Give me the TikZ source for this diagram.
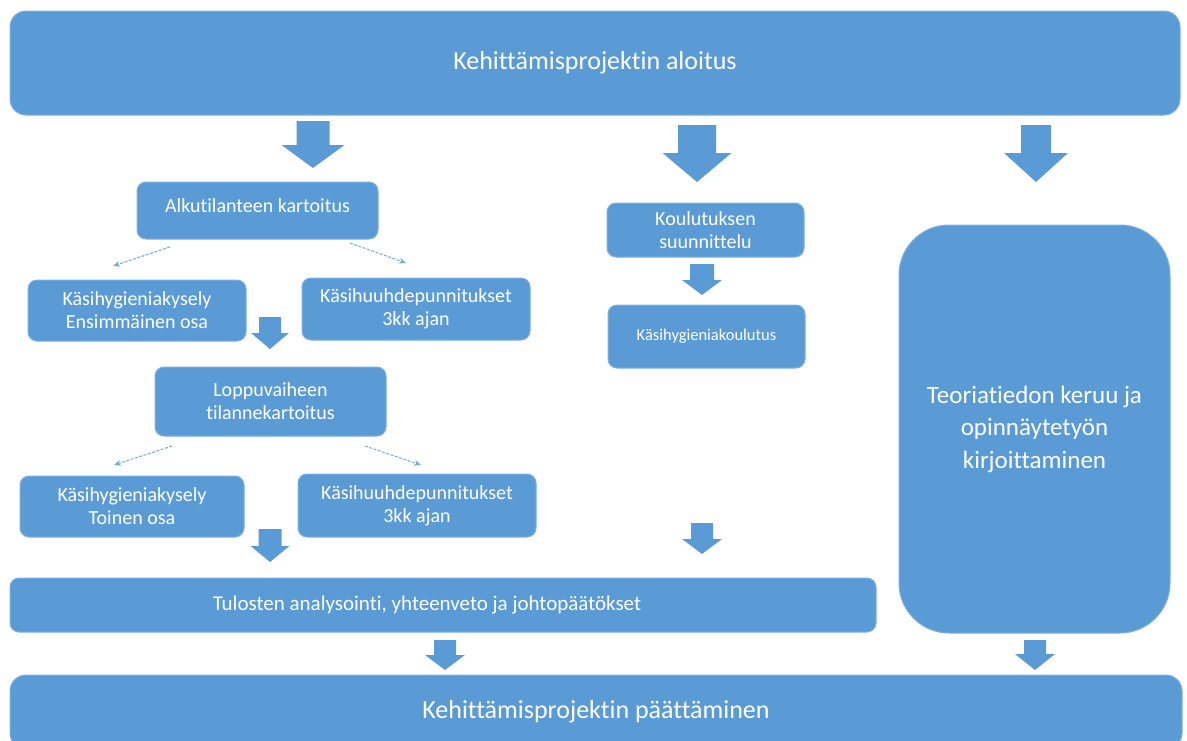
\documentclass[tikz,border=0pt]{standalone}
\usepackage{fontspec}
\setmainfont{Carlito}[Ligatures={NoCommon}]
\usetikzlibrary{arrows.meta}
\definecolor{boxblue}{HTML}{5B9BD5}
\definecolor{boxedge}{HTML}{7DB0DF}
\newcommand\blockarrow[6]{% cx, top, head start, tip, shaft half width, head half width
  \fill[boxblue] (#1-#5,#2) -- (#1+#5,#2) -- (#1+#5,#3) -- (#1+#6,#3) -- (#1,#4) -- (#1-#6,#3) -- (#1-#5,#3) -- cycle;}
\begin{document}
\begin{tikzpicture}[x=1pt,y=-1pt,
  box/.style={rectangle, rounded corners=9pt, fill=boxblue, draw=boxedge, line width=1pt,
    text=white, align=center, inner sep=0pt, font=\fontsize{20}{23}\selectfont},
  bigtext/.style={font=\fontsize{26}{30}\selectfont},
  thinarrow/.style={draw=boxblue!85!white, line width=1pt, dash pattern=on 3pt off 1.5pt,
    -{Stealth[length=7pt,width=6pt]}}]
\useasboundingbox (0,0) rectangle (1187,740);
\clip (0,0) rectangle (1187,740);

% main boxes
\node[box, bigtext, rounded corners=16pt, minimum width=1170pt, minimum height=104pt] (start) at (595,63) {Kehittämisprojektin aloitus};
\node[box, minimum width=241pt, minimum height=57pt] (alku) at (257.5,210.5) {\raisebox{5pt}[\height][\depth]{Alkutilanteen kartoitus}};
\node[box, minimum width=218pt, minimum height=61pt] (kys1) at (137,310.5) {Käsihygieniakysely\\Ensimmäinen osa};
\node[box, minimum width=228pt, minimum height=62pt] (huuh1) at (416,309) {Käsihuuhdepunnitukset\\3kk ajan};
\node[box, minimum width=231pt, minimum height=69pt] (loppu) at (270.5,401.5) {Loppuvaiheen\\tilannekartoitus};
\node[box, minimum width=224pt, minimum height=61pt] (kys2) at (132,506.5) {Käsihygieniakysely\\Toinen osa};
\node[box, minimum width=238pt, minimum height=63pt] (huuh2) at (417,505.5) {Käsihuuhdepunnitukset\\3kk ajan};
\node[box, minimum width=197pt, minimum height=54pt] (koul) at (705.5,230) {Koulutuksen\\suunnittelu};
\node[box, minimum width=197pt, minimum height=63pt, font=\fontsize{16.5}{20}\selectfont] (khk) at (706.5,336.5) {Käsihygieniakoulutus};
\node[box, rounded corners=50pt, minimum width=271pt, minimum height=408pt, font=\fontsize{25}{32.5}\selectfont] (teoria) at (1034.5,429) {Teoriatiedon keruu ja\\opinnäytetyön\\kirjoittaminen};
\node[box, minimum width=866pt, minimum height=54pt, font=\fontsize{21}{25}\selectfont] (tulos) at (443,605) {Tulosten analysointi, yhteenveto ja johtopäätökset\hspace*{32pt}};
\node[box, bigtext, rounded corners=16pt, minimum width=1172pt, minimum height=74pt] (loppu2) at (596,712) {Kehittämisprojektin päättäminen};

% block arrows
\blockarrow{313}{121}{145}{168}{16.5}{31.5}
\blockarrow{697}{125}{153}{182}{19}{34.5}
\blockarrow{1036}{125}{153}{182}{15}{32}
\blockarrow{270}{317}{333}{349}{11}{19}
\blockarrow{702}{264}{280}{295}{12}{20}
\blockarrow{270}{529}{546}{562}{11.5}{19.5}
\blockarrow{702}{523}{539}{554}{11}{20}
\blockarrow{445}{640}{655}{670}{11}{20}
\blockarrow{1035}{640}{654}{670}{11}{20}

% thin dashed arrows
\coordinate (a1s) at (170,247);
\coordinate (a1e) at (113,266);
\coordinate (a2s) at (350,243);
\coordinate (a2e) at (406,263);
\coordinate (a3s) at (172,446);
\coordinate (a3e) at (114,465);
\coordinate (a4s) at (365,446);
\coordinate (a4e) at (421,465);
\draw[thinarrow] (a1s) -- (a1e);
\draw[thinarrow] (a2s) -- (a2e);
\draw[thinarrow] (a3s) -- (a3e);
\draw[thinarrow] (a4s) -- (a4e);
\end{tikzpicture}
\end{document}
